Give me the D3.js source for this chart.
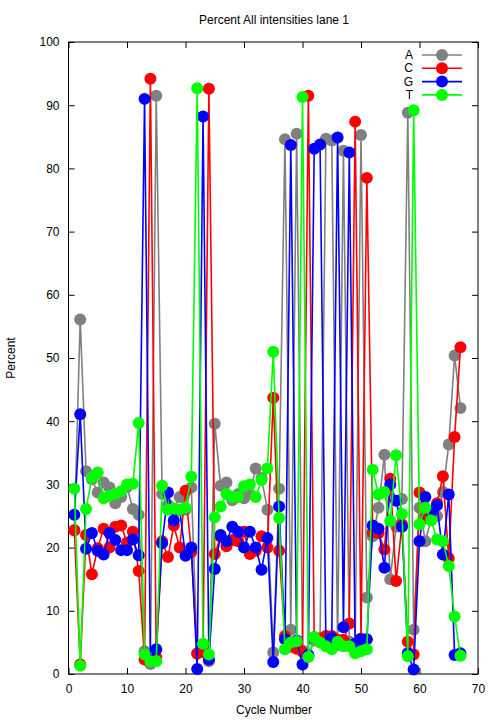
<!DOCTYPE html>
<html>
<head>
<meta charset="utf-8">
<script src="https://cdn.jsdelivr.net/npm/d3@7"></script>
<style>
  body { margin: 0; background: #fff; }
  text { font-family: "Liberation Sans", Arial, sans-serif; }
</style>
</head>
<body>
<svg id="chart"></svg>
<script>
var width = 504, height = 720;
var margin = {top: 42, right: 26, bottom: 46, left: 68.5};

// cycle numbers 1..67
var cycles = [1,2,3,4,5,6,7,8,9,10,11,12,13,14,15,16,17,18,19,20,21,22,23,24,25,26,27,28,29,30,
  31,32,33,34,35,36,37,38,39,40,41,42,43,44,45,46,47,48,49,50,51,52,53,54,55,56,57,58,59,60,
  61,62,63,64,65,66,67];

var valA = [22.8,56.1,32.1,30.8,28.7,30.3,29.5,27.0,28.0,29.6,26.1,25.2,3.6,1.6,91.5,28.5,26.8,26.0,28.0,26.0,
  29.5,3.3,3.5,2.0,39.6,29.8,30.3,27.5,28.5,27.8,28.5,32.5,31.0,26.0,3.4,29.3,84.6,7.0,85.5,3.7,
  2.8,5.3,5.6,84.7,84.4,4.6,82.8,5.1,4.5,85.3,12.1,21.8,26.3,34.7,15.0,23.3,27.7,88.8,7.0,26.3,
  21.0,24.5,25.0,28.8,36.3,50.4,42.1];
var valC = [22.7,1.5,22.0,15.8,19.9,23.0,20.0,23.3,23.5,20.8,22.5,16.3,2.3,94.2,2.6,21.0,18.5,23.5,20.0,29.0,
  19.3,3.2,3.5,92.6,19.0,21.7,20.2,21.2,21.0,22.5,19.0,19.5,21.8,20.0,43.7,19.5,6.0,4.3,4.0,3.5,
  91.5,5.8,5.6,6.0,6.0,5.4,5.4,8.0,87.4,5.6,78.5,22.4,22.3,19.7,30.9,14.7,23.7,5.1,3.1,28.7,
  24.7,25.5,27.0,31.3,18.3,37.5,51.7];
var valG = [25.2,41.1,19.8,22.3,19.5,18.9,22.3,21.2,19.6,19.6,21.3,18.8,91.0,2.2,3.9,20.7,28.7,24.3,26.0,18.7,
  20.0,0.8,88.2,2.3,16.6,22.0,21.0,23.3,22.5,20.0,22.5,20.0,16.5,21.5,1.9,26.5,5.5,83.7,5.3,1.5,
  3.0,83.1,83.8,4.9,5.7,84.9,7.4,82.5,4.8,5.5,5.5,23.5,23.0,16.8,30.0,27.4,23.3,3.3,0.7,21.0,
  28.0,25.7,26.7,18.9,28.4,3.0,3.3];
var valT = [29.3,1.3,26.1,31.1,31.9,27.8,28.2,28.5,28.9,30.0,30.1,39.7,3.1,2.0,2.0,29.8,26.0,26.2,26.0,26.3,
  31.2,92.7,4.8,3.1,24.8,26.5,28.5,28.0,28.0,29.7,30.0,28.0,30.7,32.5,51.0,24.7,3.9,5.0,5.2,91.3,
  2.7,5.8,5.0,4.4,3.9,5.1,4.4,4.4,3.3,3.6,3.9,32.3,28.4,28.8,24.2,34.6,25.3,2.8,89.2,23.7,
  26.3,24.3,21.3,21.0,17.1,9.1,2.9];

var bases = ["A", "C", "G", "T"];
var colors = ["#808080", "#ff0000", "#0000ff", "#00ff00"];
var xTicks = [0,10,20,30,40,50,60,70];
var yTicks = [0,10,20,30,40,50,60,70,80,90,100];

var series = [valA, valC, valG, valT];

const svg = d3.select("svg#chart")
    .attr("width", width)
    .attr("height", height);

var x = d3.scaleLinear().domain([0, 70]).range([margin.left, width - margin.right]);
var y = d3.scaleLinear().domain([0, 100]).range([height - margin.bottom, margin.top]);

// axes, gnuplot style: ticks inside, mirrored
var axes = svg.append("g").attr("id", "axes");

axes.append("g")
    .attr("transform", "translate(0," + y(0) + ")")
    .call(d3.axisBottom(x).tickValues(xTicks).tickSize(-6).tickPadding(10));
axes.append("g")
    .attr("transform", "translate(0," + y(100) + ")")
    .call(d3.axisTop(x).tickValues(xTicks).tickSize(-6).tickFormat(""));
axes.append("g")
    .attr("transform", "translate(" + x(0) + ",0)")
    .call(d3.axisLeft(y).tickValues(yTicks).tickSize(-6).tickPadding(9));
axes.append("g")
    .attr("transform", "translate(" + x(70) + ",0)")
    .call(d3.axisRight(y).tickValues(yTicks).tickSize(-6).tickFormat(""));

axes.selectAll(".domain").remove();
axes.selectAll("line").attr("stroke", "#000");
axes.selectAll("text").style("font-size", "12px").attr("fill", "#000");

axes.append("rect")
    .attr("x", x(0)).attr("y", y(100))
    .attr("width", x(70) - x(0)).attr("height", y(0) - y(100))
    .attr("fill", "none").attr("stroke", "#000").attr("stroke-width", 1);

// lines + points
var plot = svg.append("g").attr("id", "plot");
var line = d3.line().x((d, i) => x(cycles[i])).y(d => y(d));

series.forEach(function(vals, k) {
    var g = plot.append("g").attr("class", "series-" + bases[k]);
    g.append("path")
        .datum(vals)
        .attr("d", line)
        .attr("fill", "none")
        .attr("stroke", colors[k])
        .attr("stroke-width", 1.6);
    g.selectAll("circle").data(vals)
        .enter().append("circle")
        .attr("cx", (d, i) => x(cycles[i]))
        .attr("cy", d => y(d))
        .attr("r", 6)
        .attr("fill", colors[k]);
});

// legend
var legend = svg.append("g").attr("id", "legend");
bases.forEach(function(b, k) {
    var ly = 55 + k * 13.3;
    legend.append("text")
        .attr("x", 413).attr("y", ly + 4)
        .attr("text-anchor", "end")
        .style("font-size", "12px")
        .text(b);
    legend.append("line")
        .attr("x1", 422).attr("x2", 462)
        .attr("y1", ly).attr("y2", ly)
        .attr("stroke", colors[k]).attr("stroke-width", 1.6);
    legend.append("circle")
        .attr("cx", 442).attr("cy", ly).attr("r", 6)
        .attr("fill", colors[k]);
});

// titles
svg.append("text")
    .attr("x", 274).attr("y", 24)
    .attr("text-anchor", "middle")
    .style("font-size", "12px")
    .text("Percent All intensities lane 1");
svg.append("text")
    .attr("x", 274).attr("y", 714)
    .attr("text-anchor", "middle")
    .style("font-size", "12px")
    .text("Cycle Number");
svg.append("text")
    .attr("transform", "translate(15," + y(50) + ") rotate(-90)")
    .attr("text-anchor", "middle")
    .style("font-size", "12px")
    .text("Percent");
</script>
</body>
</html>
